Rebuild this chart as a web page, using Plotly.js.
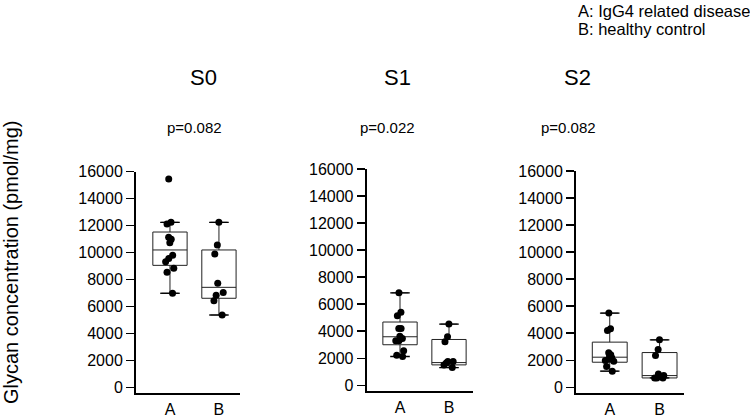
<!DOCTYPE html>
<html>
<head>
<meta charset="utf-8">
<script src="https://cdn.plot.ly/plotly-3.0.1.min.js"></script>
<style>html,body{margin:0;padding:0;background:#fff;}#chart{width:750px;height:417px;}</style>
</head>
<body>
<div id="chart"></div>
<script>
// ---- data ----
const groups = ['A', 'B'];
const panels = ['S0', 'S1', 'S2'];
const pValues = ['p=0.082', 'p=0.022', 'p=0.082'];
const legendLines = ['A: IgG4 related disease', 'B: healthy control'];
const yTitle = 'Glycan concentration (pmol/mg)';
const yTicks = [0, 2000, 4000, 6000, 8000, 10000, 12000, 14000, 16000];

// individual points
const s0A = [15460, 12250, 12120, 11140, 10990, 10740, 9800, 9560, 9330, 8840, 8540, 6990];
const s0B = [12250, 10570, 9900, 7730, 7040, 6840, 6440, 5380];
const s1A = [6840, 5400, 5150, 4210, 4210, 3620, 3470, 3290, 3290, 2550, 2230, 2130];
const s1B = [4530, 3590, 3220, 1760, 1760, 1640, 1510, 1310];
const s2A = [5490, 4330, 4200, 2550, 2400, 2330, 2180, 2100, 1980, 1930, 1530, 1190];
const s2B = [3510, 2800, 2350, 990, 870, 690, 690, 690];

// box statistics [A, B]
const s0Q1 = [9060, 6620], s0Med = [10200, 7430], s0Q3 = [11530, 10200], s0Lo = [6990, 5380], s0Hi = [12250, 12250];
const s1Q1 = [3000, 1510], s1Med = [3590, 1680], s1Q3 = [4680, 3390], s1Lo = [2130, 1310], s1Hi = [6840, 4530];
const s2Q1 = [1855, 692], s2Med = [2226, 866], s2Q3 = [3340, 2570], s2Lo = [1190, 692], s2Hi = [5490, 3510];

const pointsA = [s0A, s1A, s2A];
const pointsB = [s0B, s1B, s2B];
const q1s = [s0Q1, s1Q1, s2Q1], meds = [s0Med, s1Med, s2Med], q3s = [s0Q3, s1Q3, s2Q3];
const los = [s0Lo, s1Lo, s2Lo], his = [s0Hi, s1Hi, s2Hi];

// ---- layout helpers ----
const FONT = 'Liberation Sans, Arial, sans-serif';
const W = 750, H = 417;
const xDom = [[136, 240], [366.7, 473], [576, 684]];
const yDom = [[171.7, 393], [169, 390.7], [171, 392.7]];
const xRanges = [[-0.694, 1.43], [-0.68, 1.49], [-0.677, 1.49]];
const titleX = [203, 397, 577];
const pX = [194, 387, 568];

const traces = [];
const layout = {
  width: W, height: H,
  margin: {l: 0, r: 0, t: 0, b: 0},
  paper_bgcolor: '#fff', plot_bgcolor: '#fff',
  showlegend: false,
  boxmode: 'overlay',
  font: {family: FONT, color: '#000', size: 16},
  annotations: []
};

for (let i = 0; i < 3; i++) {
  const xa = i === 0 ? 'x' : 'x' + (i + 1);
  const ya = i === 0 ? 'y' : 'y' + (i + 1);
  const xk = i === 0 ? 'xaxis' : 'xaxis' + (i + 1);
  const yk = i === 0 ? 'yaxis' : 'yaxis' + (i + 1);

  // box with precomputed stats
  traces.push({
    type: 'box', xaxis: xa, yaxis: ya,
    x: groups, q1: q1s[i], median: meds[i], q3: q3s[i],
    lowerfence: los[i], upperfence: his[i],
    boxpoints: false, width: 0.7,
    fillcolor: 'rgba(255,255,255,0)',
    line: {color: '#222', width: 1},
    hoverinfo: 'skip'
  });
  // whisker caps
  traces.push({
    type: 'scatter', mode: 'markers', xaxis: xa, yaxis: ya,
    x: groups.concat(groups), y: his[i].concat(los[i]),
    marker: {symbol: 'line-ew', size: 14, color: '#000', line: {color: '#000', width: 1.3}},
    hoverinfo: 'skip'
  });
  // individual points (invisible box, visible jittered points)
  const a = pointsA[i], b = pointsB[i];
  traces.push({
    type: 'box', xaxis: xa, yaxis: ya,
    x: a.map(() => groups[0]).concat(b.map(() => groups[1])),
    y: a.concat(b),
    boxpoints: 'all', jitter: 0.3, pointpos: 0, width: 0.7,
    fillcolor: 'rgba(0,0,0,0)',
    line: {color: 'rgba(0,0,0,0)', width: 0},
    marker: {color: '#000', size: 7, line: {width: 0}},
    hoverinfo: 'skip'
  });

  layout[xk] = {
    domain: [xDom[i][0] / W, xDom[i][1] / W],
    anchor: ya, type: 'category', categoryarray: groups,
    range: xRanges[i], fixedrange: true,
    showline: true, linecolor: '#000', linewidth: 2,
    ticks: '', showgrid: false, zeroline: false,
    ticklabelstandoff: 1,
    tickfont: {family: FONT, size: 16, color: '#000'}
  };
  layout[yk] = {
    domain: [1 - yDom[i][1] / H, 1 - yDom[i][0] / H],
    anchor: xa, range: [-400, 16000], fixedrange: true,
    tickvals: yTicks, ticktext: yTicks.map(String),
    showline: true, linecolor: '#000', linewidth: 2,
    ticks: 'outside', ticklen: 8, tickwidth: 1.5, tickcolor: '#000',
    showgrid: false, zeroline: false,
    tickfont: {family: FONT, size: 16, color: '#000'}
  };

  layout.annotations.push({
    xref: 'paper', yref: 'paper', x: titleX[i] / W, y: 1 - 78 / H,
    xanchor: 'center', yanchor: 'middle', showarrow: false,
    text: panels[i], font: {family: FONT, size: 22, color: '#000'}
  });
  layout.annotations.push({
    xref: 'paper', yref: 'paper', x: pX[i] / W, y: 1 - 128 / H,
    xanchor: 'center', yanchor: 'middle', showarrow: false,
    text: pValues[i], font: {family: FONT, size: 15, color: '#000'}
  });
}

legendLines.forEach((t, k) => {
  layout.annotations.push({
    xref: 'paper', yref: 'paper', x: 576 / W, y: 1 - (11 + 18 * k) / H,
    xanchor: 'left', yanchor: 'middle', showarrow: false,
    text: t, font: {family: FONT, size: 16.5, color: '#000'}
  });
});

layout.annotations.push({
  xref: 'paper', yref: 'paper', x: 11 / W, y: 1 - 263 / H,
  xanchor: 'center', yanchor: 'middle', showarrow: false, textangle: -90,
  text: yTitle, font: {family: FONT, size: 20, color: '#000'}
});

Plotly.newPlot('chart', traces, layout, {staticPlot: true, displayModeBar: false});
</script>
</body>
</html>
